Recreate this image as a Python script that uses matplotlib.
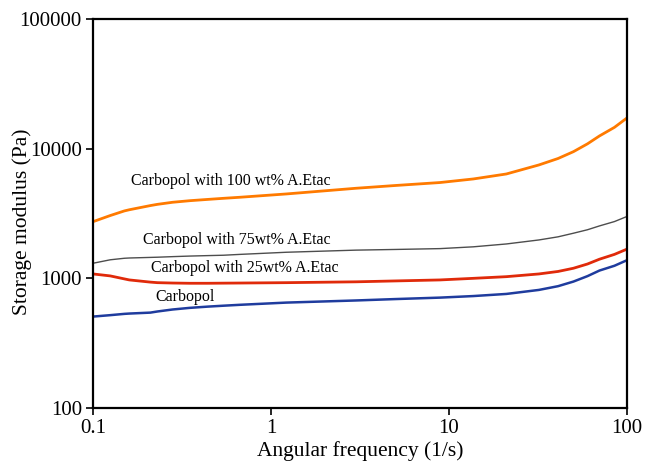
import numpy as np
import matplotlib
matplotlib.use("Agg")
import matplotlib.pyplot as plt
from matplotlib.ticker import FixedLocator, NullLocator, FixedFormatter

plt.rcParams['font.family'] = ['Liberation Serif', 'DejaVu Serif']

freq = [0.1, 0.125, 0.15, 0.16, 0.21, 0.23, 0.28, 0.35, 0.44, 0.54, 0.67, 1.22,
        3, 5, 8.9, 13.7, 21, 32, 41, 50, 60, 70, 85, 100]
g_100 = [2735, 3050, 3310, 3380, 3640, 3720, 3860, 3970, 4060, 4140, 4220, 4475,
         4950, 5200, 5480, 5840, 6380, 7490, 8400, 9480, 10900, 12530, 14600, 17260]
g_75 = [1307, 1390, 1428, 1435, 1450, 1455, 1470, 1485, 1497, 1507, 1530, 1589,
        1650, 1670, 1695, 1750, 1841, 1977, 2090, 2228, 2370, 2536, 2740, 3000]
g_25 = [1081, 1044, 990, 972, 935, 926, 920, 916, 916, 918, 920, 926,
        940, 955, 972, 1000, 1030, 1081, 1130, 1196, 1290, 1404, 1530, 1680]
g_0 = [507, 520, 532, 535, 544, 555, 575, 592, 605, 615, 625, 650,
       675, 692, 710, 730, 758, 814, 870, 944, 1040, 1148, 1250, 1380]

labels = ["Carbopol with 100 wt% A.Etac", "Carbopol with 75wt% A.Etac",
          "Carbopol with 25wt% A.Etac", "Carbopol"]
label_x = [0.1635, 0.191, 0.212, 0.223]
label_y = [5640, 1977, 1202, 719]

xticks = [0.1, 1, 10, 100]
xticklabels = ["0.1", "1", "10", "100"]
yticks = [100, 1000, 10000, 100000]
yticklabels = ["100", "1000", "10000", "100000"]

fig = plt.figure(figsize=(6.45, 4.62), dpi=100)
ax = fig.add_axes([93/645, 1-408/462, (627-93)/645, (408-19)/462])

ax.plot(freq, g_100, color='#ff7a00', lw=2.0, solid_joinstyle='round')
ax.plot(freq, g_75, color='#4d4d4d', lw=1.0, solid_joinstyle='round')
ax.plot(freq, g_25, color='#e02a0a', lw=2.0, solid_joinstyle='round')
ax.plot(freq, g_0, color='#1f3c9e', lw=1.8, solid_joinstyle='round')

ax.set_xscale('log')
ax.set_yscale('log')
ax.set_xlim(0.1, 100)
ax.set_ylim(100, 100000)
ax.xaxis.set_major_locator(FixedLocator(xticks))
ax.xaxis.set_major_formatter(FixedFormatter(xticklabels))
ax.yaxis.set_major_locator(FixedLocator(yticks))
ax.yaxis.set_major_formatter(FixedFormatter(yticklabels))
ax.xaxis.set_minor_locator(NullLocator())
ax.yaxis.set_minor_locator(NullLocator())
ax.tick_params(axis='both', which='major', labelsize=15, direction='out', length=5, width=1.2, pad=3)

for s in ax.spines.values():
    s.set_linewidth(1.6)

for t, x, y in zip(labels, label_x, label_y):
    ax.text(x, y, t, fontsize=11.5, ha='left', va='center')

ax.set_xlabel('Angular frequency (1/s)', fontsize=15.5, labelpad=2)
ax.set_ylabel('Storage modulus (Pa)', fontsize=15.5)
ax.yaxis.set_label_coords(-0.115, 0.48)

fig.savefig('out.png', dpi=100)
